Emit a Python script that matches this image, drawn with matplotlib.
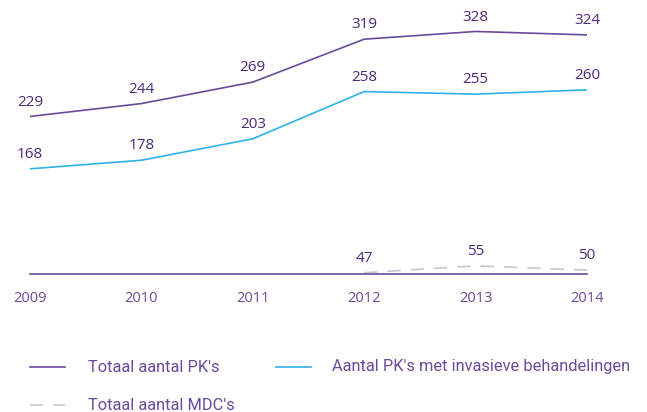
import matplotlib.pyplot as plt
from matplotlib.lines import Line2D
import numpy as np

# data
years = [2009, 2010, 2011, 2012, 2013, 2014]
pk_total = [229, 244, 269, 319, 328, 324]
pk_invasive = [168, 178, 203, 258, 255, 260]
mdc_years = [2012, 2013, 2014]
mdc_total = [47, 55, 50]

purple = '#6a4a9a'
blue = '#2fb2e6'
grey = '#c9c5d6'
txt = '#4a2a7a'

plt.rcParams['font.family'] = ['Open Sans', 'DejaVu Sans']

W, H = 647, 412
fig = plt.figure(figsize=(W/100, H/100), dpi=100)
ax = fig.add_axes([30/W, 138/H, 557/W, 264/H])

l1, = ax.plot(years, pk_total, color=purple, lw=1.2, label="Totaal aantal PK's")
l2, = ax.plot(years, pk_invasive, color=blue, lw=1.2, label="Aantal PK's met invasieve behandelingen")
l3, = ax.plot(mdc_years, mdc_total, color=grey, lw=1.2, dashes=(8, 6), label="Totaal aantal MDC's")

for xs, ys in [(years, pk_total), (years, pk_invasive), (mdc_years, mdc_total)]:
    for x, y in zip(xs, ys):
        ax.annotate(str(y), (x, y), xytext=(0, 5), textcoords='offset points',
                    ha='center', va='bottom', fontsize=11, color=txt)

ax.set_xlim(2009, 2014)
ax.set_ylim(45.5, 353)
ax.set_xticks(years)
ax.set_xticklabels([str(y) for y in years], fontsize=10.5, color=purple)
ax.set_yticks([])
ax.tick_params(axis='x', length=0, pad=12)
for s in ['top', 'right', 'left']:
    ax.spines[s].set_visible(False)
ax.spines['bottom'].set_color(purple)
ax.spines['bottom'].set_linewidth(1.2)
ax.patch.set_alpha(0)

# legend, laid out by hand: (line, x of handle, x of text, y of row) in pixels
legend_rows = [(l1, 30, 88, 367), (l2, 276, 332, 367), (l3, 30, 88, 405)]
for line, px, tx, py in legend_rows:
    y = 1 - py / H
    h = Line2D([px / W, (px + 35) / W], [y, y], transform=fig.transFigure,
               color=line.get_color(), lw=1.2)
    if line is l3:
        h.set_dashes((8, 6))
    fig.add_artist(h)
    fig.text(tx / W, y, line.get_label(), ha='left', va='center',
             fontsize=11.8, color=purple, family=['Roboto', 'DejaVu Sans'])

fig.savefig('out.png', dpi=100)
